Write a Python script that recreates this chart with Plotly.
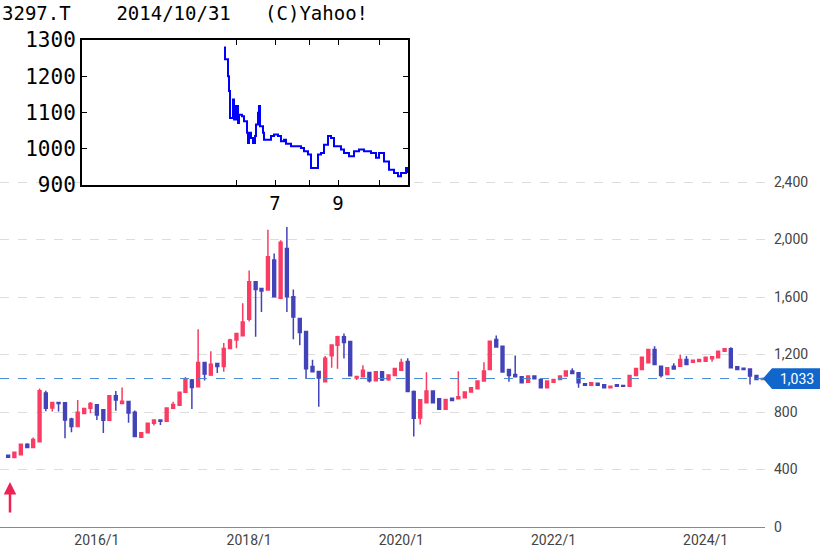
import plotly.graph_objects as go
import pandas as pd

months = pd.date_range("2014-11-01", periods=120, freq="MS")
opens = [500,483,502,576,553,594,932,828,867,865,752,700,790,826,851,816,742,913,860,874,
         798,625,656,722,745,735,826,848,937,1022,976,1145,1057,1138,1117,1242,1302,1330,1445,1706,
         1660,1649,1857,1591,1938,1602,1450,1360,1117,1082,1010,1191,1265,1323,1290,1036,1045,1075,1017,1080,
         1024,1055,1091,1152,943,758,865,946,893,819,895,893,900,939,962,1015,1096,1304,1258,1096,
         1061,1045,1008,1050,1027,969,1008,1027,1050,1085,1073,997,987,1000,990,969,990,985,980,1054,
         1096,1142,1235,1119,1061,1119,1119,1165,1147,1152,1154,1170,1177,1223,1240,1115,1105,1100,1054,1027]
highs = [505,525,580,582,622,963,948,870,870,868,760,883,830,870,856,820,918,946,970,878,
         810,660,725,748,750,830,872,940,1043,1030,1376,1150,1223,1142,1280,1310,1350,1556,1785,1712,
         1665,2069,1903,1995,2088,1653,1455,1365,1163,1085,1190,1270,1330,1346,1295,1050,1126,1080,1085,1085,
         1060,1108,1170,1175,950,890,1077,950,898,892,900,1084,942,972,1020,1147,1296,1332,1262,1100,
         1193,1050,1055,1055,1030,1018,1030,1055,1090,1105,1078,1000,1008,1004,993,984,994,990,1058,1108,
         1185,1240,1258,1124,1112,1140,1200,1190,1165,1170,1186,1188,1228,1245,1250,1120,1110,1104,1058,1040]
lows = [480,480,500,550,550,590,805,803,803,617,659,698,786,792,745,654,740,809,855,726,
        625,620,652,706,710,730,822,845,935,821,970,1020,1050,1071,1080,1238,1244,1325,1429,1323,
        1496,1645,1600,1585,1496,1306,1265,1029,1075,837,1005,1108,1101,1172,1048,1022,1040,1006,1012,1015,
        1018,1050,1088,940,629,714,860,860,815,815,876,888,896,935,958,1010,1090,1250,1075,1010,
        1040,1000,1004,1028,966,966,1004,1022,1046,1064,969,984,984,984,966,966,976,976,976,1050,
        1092,1138,1125,1040,1058,1096,1115,1128,1143,1148,1150,1150,1173,1219,1104,1092,1092,992,1023,1023]
closes = [485,520,576,553,608,948,826,867,860,745,700,798,825,860,780,742,913,883,875,793,
          629,655,722,745,735,828,853,937,1029,971,1145,1064,1133,1117,1242,1302,1346,1427,1706,1653,
          1642,1880,1602,1982,1602,1461,1353,1101,1080,1036,1175,1267,1323,1283,1052,1048,1091,1017,1080,1022,
          1057,1103,1145,943,756,885,946,865,819,888,881,907,939,969,1015,1085,1292,1253,1078,1054,
          1045,1003,1050,1031,969,1015,1027,1050,1085,1068,1003,987,1003,987,969,980,980,980,1054,1103,
          1181,1235,1131,1054,1108,1100,1165,1131,1160,1165,1181,1184,1223,1240,1108,1096,1096,1050,1027,1033]
last_price = 1033
main_ticks = [0, 400, 800, 1200, 1600, 2000, 2400]
x_ticks = ["2016-01-01", "2018-01-01", "2020-01-01", "2022-01-01", "2024-01-01"]
x_ticktext = ["2016/1", "2018/1", "2020/1", "2022/1", "2024/1"]

inset_x = [142,143,146,147,148,148,151,152,154,156,157,160,162,165,166,167,169,171,173,174,176,177,178,181,182,
           186,189,192,196,199,202,204,209,214,219,222,226,229,232,236,239,242,246,249,252,256,259,262,267,
           272,277,282,289,294,297,302,307,312,316,319,324,325]
inset_y = [1279,1247,1200,1159,1136,1085,1136,1081,1118,1071,1094,1090,1076,1044,1016,1044,1030,1016,1035,1067,
           1099,1118,1062,1044,1025,1025,1035,1039,1035,1021,1025,1014,1007,1007,1002,993,984,947,947,984,988,
           1011,1035,1030,1007,1007,998,988,979,993,998,993,988,975,988,965,942,933,924,933,947,933]
inset_ticks = [900, 1000, 1100, 1200, 1300]
inset_xticks = [154, 193, 227, 256, 297]
inset_xtext = ["", "7", "", "9", ""]

RED = "#fa3c64"
BLUE = "#4343b9"
W, PW, PH = 825, 765, 527

fig = go.Figure()
fig.add_trace(go.Candlestick(
    x=months, open=opens, high=highs, low=lows, close=closes,
    increasing=dict(line=dict(color=RED, width=1.5), fillcolor=RED),
    decreasing=dict(line=dict(color=BLUE, width=1.5), fillcolor=BLUE),
    whiskerwidth=0, showlegend=False, hoverinfo="skip"))
fig.add_trace(go.Scatter(x=inset_x, y=inset_y, mode="lines", line=dict(color="#0000ff", width=2, shape="hv"),
                         xaxis="x2", yaxis="y2", showlegend=False, hoverinfo="skip"))

mono = "DejaVu Sans Mono"
fig.update_layout(
    width=W, height=557, margin=dict(l=0, r=W - PW, t=0, b=557 - PH, autoexpand=False),
    paper_bgcolor="white", plot_bgcolor="white",
    xaxis=dict(type="date", range=["2014-09-23", "2024-10-12"], rangeslider=dict(visible=False),
               tickvals=x_ticks, ticktext=x_ticktext, showgrid=False, showline=True,
               linecolor="#888", linewidth=1, ticks="", tickfont=dict(family="Roboto", size=14, color="#444")),
    yaxis=dict(side="right", range=[0, 2484], domain=[0, (PH - 170) / PH], tickvals=main_ticks,
               tickformat=",", showgrid=True, gridcolor="#dddddd", griddash="dash", zeroline=False,
               tickfont=dict(family="Roboto", size=14, color="#444"), ticklabelstandoff=8),
    xaxis2=dict(domain=[82 / PW, 408 / PW], anchor="y2", range=[0, 326], tickvals=inset_xticks,
                ticktext=inset_xtext, ticks="inside", ticklen=5, tickcolor="black", showgrid=False,
                showline=True, mirror="ticks", linecolor="black", linewidth=2, zeroline=False,
                tickfont=dict(family=mono, size=19, color="black")),
    yaxis2=dict(domain=[(PH - 185) / PH, (PH - 40) / PH], anchor="x2", range=[900, 1300], tickvals=inset_ticks,
                ticks="inside", ticklen=5, tickcolor="black", showgrid=False, showline=True, mirror="ticks",
                linecolor="black", linewidth=2, zeroline=False,
                tickfont=dict(family=mono, size=21, color="black")),
)
fig.add_shape(type="rect", xref="paper", yref="paper", x0=-0.01, x1=413 / PW, y0=(PH - 215) / PH, y1=1.05,
              fillcolor="white", line=dict(width=0), layer="between")
fig.add_shape(type="line", xref="x", yref="y", x0="2014-09-23", x1="2024-10-12", y0=last_price, y1=last_price,
              line=dict(color="#4a8ad0", width=1, dash="dash"))
fig.add_annotation(xref="paper", yref="paper", x=0, y=1.0, xanchor="left", yanchor="top", showarrow=False,
                   text="3297.T    2014/10/31   (C)Yahoo!", font=dict(family=mono, size=19, color="black"))
fig.add_shape(type="path", xref="paper", yref="y",
              path=f"M {763/PW},{last_price} L {772/PW},{last_price+72} L {820/PW},{last_price+72} "
                   f"L {820/PW},{last_price-72} L {772/PW},{last_price-72} Z",
              fillcolor="#1166cc", line=dict(width=0), layer="above")
fig.add_annotation(xref="paper", yref="y", x=1, xshift=13, xanchor="left", y=last_price, showarrow=False,
                   text=f"{last_price:,}", font=dict(family="Roboto", size=14, color="white"))
fig.add_annotation(xref="paper", yref="paper", x=10 / PW, y=(PH - 482) / PH, ax=0, ay=32, showarrow=True,
                   arrowhead=2, arrowsize=1, arrowwidth=2.5, arrowcolor="#ee2255", text="")
fig.write_html("out.html", config={"displayModeBar": False, "staticPlot": True})
with open("out.html", encoding="utf-8") as f:
    html = f.read()
html = html.replace("<head>", "<head><style>html,body{margin:0;padding:0;overflow:hidden}</style>", 1)
with open("out.html", "w", encoding="utf-8") as f:
    f.write(html)
